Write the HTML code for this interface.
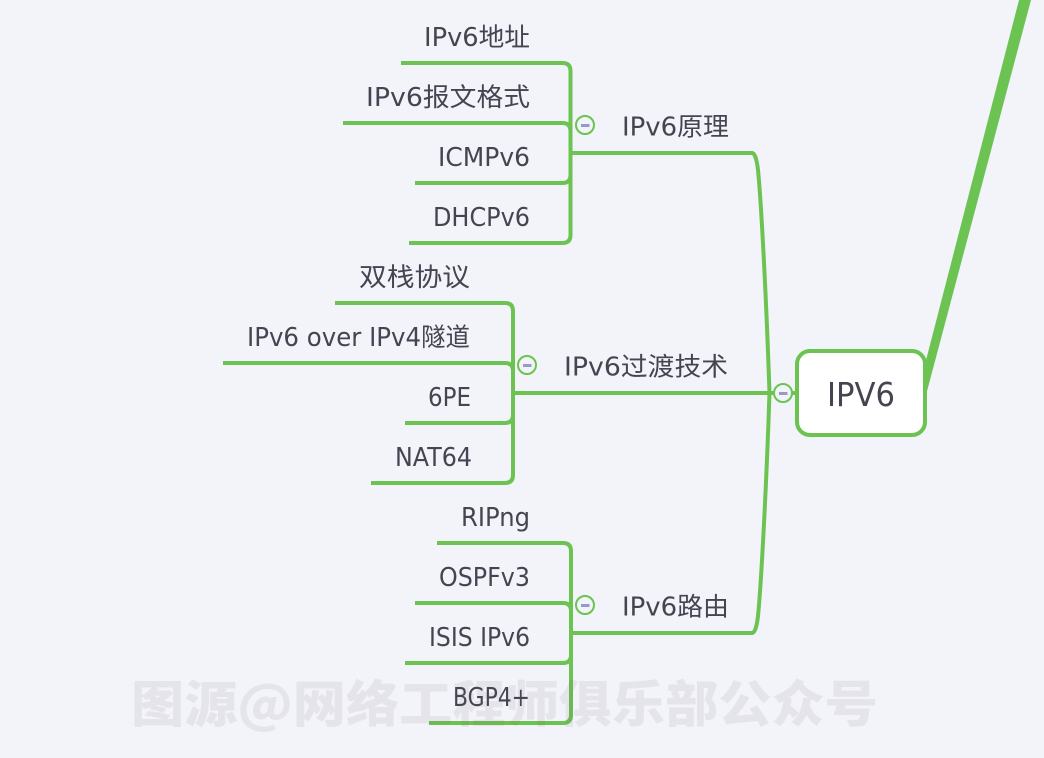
<!DOCTYPE html>
<html><head><meta charset="utf-8"><style>
html,body{margin:0;padding:0;background:#f2f4fa}
svg{display:block}
.t{font-family:"DejaVu Sans","Noto Sans CJK SC",sans-serif;font-size:25.5px;fill:#454552}
.w{font-family:"Noto Sans CJK SC",sans-serif;font-size:50px;font-weight:900;fill:rgba(120,90,110,.1)}
.l{fill:none;stroke:#6cc352;stroke-width:4}
</style></head><body>
<svg width="1044" height="758" viewBox="0 0 1044 758" xmlns="http://www.w3.org/2000/svg">
<rect width="1044" height="758" fill="#f2f4fa"/>

<path d="M1019 0 L1031 0 L926 395 L924 395 L924 368Z" fill="#6cc352"/>
<rect x="797" y="351" width="128" height="84" rx="13" fill="#fff" stroke="#6cc352" stroke-width="4"/>
<path d="M752 153 Q756 153 758 170 C761 200 766 290 769.5 393 C766 496 761 586 758 616 Q756 633 752 633" fill="none" stroke="#6cc352" stroke-width="4"/>
<path class="l" d="M571 153 H753"/>
<path class="l" d="M571 633 H753"/>
<path class="l" d="M514 393 H797"/>

<path class="l" d="M401 63 H562.5 Q570.5 63 570.5 71 V235 Q570.5 243 562.5 243 H409"/>
<path class="l" d="M343 123 H562.5 Q570.5 123 570.5 131 V175 Q570.5 183 562.5 183 H415"/>

<path class="l" d="M335 303 H505 Q513 303 513 311 V475 Q513 483 505 483 H371"/>
<path class="l" d="M223 363 H505 Q513 363 513 371 V415 Q513 423 505 423 H405"/>

<path class="l" d="M437 543 H563 Q571 543 571 551 V715 Q571 723 563 723 H429"/>
<path class="l" d="M415 603 H563 Q571 603 571 611 V655 Q571 663 563 663 H405"/>

<g fill="#f2f4fa" stroke="#6cc352" stroke-width="2">
<circle cx="585" cy="125" r="9"/>
<circle cx="527" cy="365" r="9"/>
<circle cx="585" cy="605" r="9"/>
<circle cx="783" cy="393" r="9"/>
</g>
<g fill="#969cc8">
<rect x="581" y="124" width="8.5" height="3"/>
<rect x="523" y="364" width="8.5" height="3"/>
<rect x="581" y="604" width="8.5" height="3"/>
<rect x="779" y="392" width="8.5" height="3"/>
</g>

<text class="t" x="424" y="46" textLength="106" lengthAdjust="spacingAndGlyphs">IPv6地址</text>
<text class="t" x="366" y="106" textLength="164" lengthAdjust="spacingAndGlyphs">IPv6报文格式</text>
<text class="t" x="438" y="166" textLength="92" lengthAdjust="spacingAndGlyphs">ICMPv6</text>
<text class="t" x="433" y="226" textLength="97" lengthAdjust="spacingAndGlyphs">DHCPv6</text>
<text class="t" x="622" y="135.5" textLength="107" lengthAdjust="spacingAndGlyphs">IPv6原理</text>

<text class="t" x="359" y="286" textLength="111" lengthAdjust="spacingAndGlyphs">双栈协议</text>
<text class="t" x="247" y="346" textLength="223" lengthAdjust="spacingAndGlyphs">IPv6 over IPv4隧道</text>
<text class="t" x="428" y="406" textLength="43" lengthAdjust="spacingAndGlyphs">6PE</text>
<text class="t" x="395" y="466" textLength="77" lengthAdjust="spacingAndGlyphs">NAT64</text>
<text class="t" x="564" y="375.5" textLength="164" lengthAdjust="spacingAndGlyphs">IPv6过渡技术</text>

<text class="t" x="461" y="526" textLength="69" lengthAdjust="spacingAndGlyphs">RIPng</text>
<text class="t" x="439" y="586" textLength="91" lengthAdjust="spacingAndGlyphs">OSPFv3</text>
<text class="t" x="429" y="646" textLength="101" lengthAdjust="spacingAndGlyphs">ISIS IPv6</text>
<text class="t" x="453" y="706" textLength="77" lengthAdjust="spacingAndGlyphs">BGP4+</text>
<text class="t" x="622" y="615.5" textLength="107" lengthAdjust="spacingAndGlyphs">IPv6路由</text>

<text class="t" x="827" y="406" style="font-size:33px" textLength="68" lengthAdjust="spacingAndGlyphs">IPV6</text>

<text class="w" x="131" y="722" textLength="747" lengthAdjust="spacingAndGlyphs">图源@网络工程师俱乐部公众号</text>
</svg>
</body></html>
